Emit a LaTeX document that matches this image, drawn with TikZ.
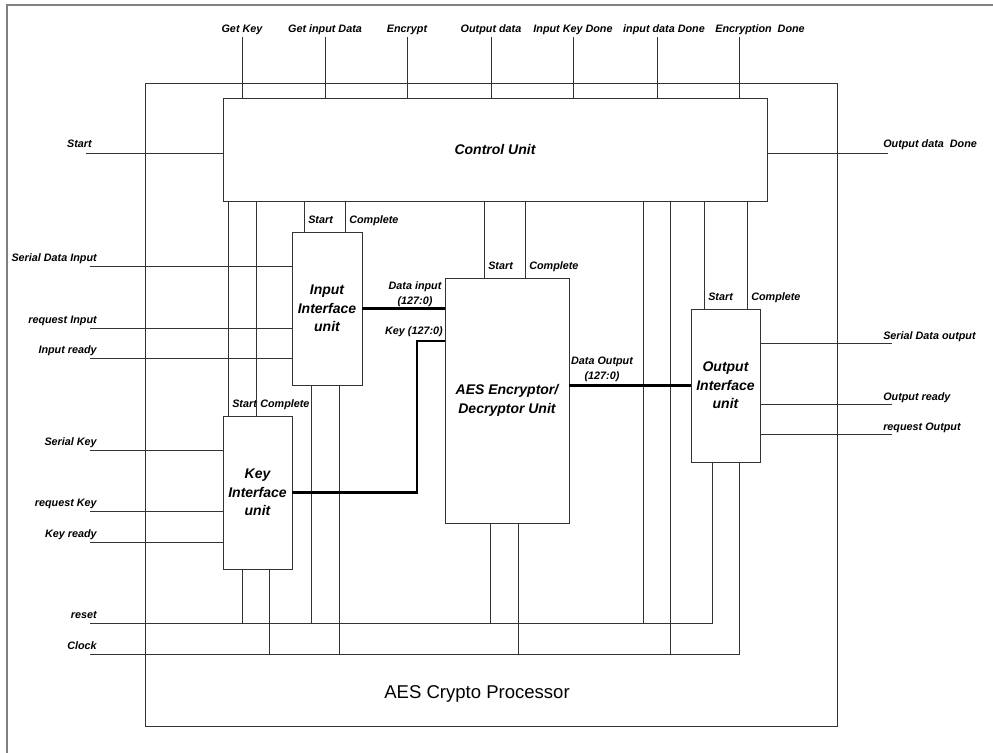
\documentclass[tikz,border=0pt]{standalone}
\usepackage{fontspec}
\setmainfont{Liberation Sans}
\usetikzlibrary{fit}

\tikzset{
  blk/.style={draw=black!80, line width=0.7pt, inner sep=0pt},
  boxtext/.style={font=\fontsize{10.5}{14}\selectfont\bfseries\itshape, align=center},
  sig/.style={font=\fontsize{8.1}{11}\selectfont\bfseries\itshape, inner sep=0pt, align=center},
  wire/.style={black!80, line width=0.6pt},
  bus/.style={black, line width=2pt},
}

\begin{document}
\begin{tikzpicture}[x=0.75pt, y=-0.75pt]
    \useasboundingbox (0,0) rectangle (993,753);

    % page frame
    \draw[black!50, line width=1.5pt] (7,753) -- (7,5) -- (993,5);

    % processor
    \node[blk, fit={(145,83) (837,726)}] (cp) {};
    \node[font=\fontsize{13.9}{16}\selectfont] (cpl) at (477,694) {AES Crypto Processor};

    % blocks
    \node[blk, fit={(223,98) (767,201)}, label={[boxtext]center:Control Unit}] (cu) {};
    \node[blk, fit={(292,232) (362,385)}, label={[boxtext]center:{Input\\Interface\\unit}}] (iu) {};
    \node[blk, fit={(223,416) (292,569)}, label={[boxtext]center:{Key\\Interface\\unit}}] (ku) {};
    \node[blk, fit={(445,278) (569,523)}, label={[boxtext]center:{AES Encryptor/\\Decryptor Unit}}] (au) {};
    \node[blk, fit={(691,309) (760,462)}, label={[boxtext]center:{Output\\Interface\\unit}}] (ou) {};

    % top signals
    \foreach \x/\lx/\t [count=\i] in {242/242/Get Key, 325/325/Get input Data, 407/407/Encrypt,
                                      491/491/Output data, 573/573/Input Key Done,
                                      657/664/input data Done, 739/760/Encryption~ Done} {
        \coordinate (top\i) at (\x,37);
        \draw[wire] (cu.north -| top\i) -- (top\i);
        \node[sig, anchor=base] (topl\i) at (\lx,32) {\t};
    }

    % start / done
    \coordinate (st) at (86,153);
    \draw[wire] (st) -- (st -| cu.west);
    \node[sig, anchor=base east] (stl) at (92,147.5) {Start};
    \coordinate (od) at (888,153);
    \draw[wire] (od -| cu.east) -- (od);
    \node[sig, anchor=base west] (odl) at (883,147.5) {Output data~ Done};

    % left inputs
    \foreach \y/\t/\b [count=\i] in {266/Serial Data Input/iu, 328/request Input/iu, 358/Input ready/iu,
                                     450/Serial Key/ku, 511/request Key/ku, 542/Key ready/ku} {
        \coordinate (in\i) at (90,\y);
        \draw[wire] (in\i) -- (in\i -| \b.west);
        \node[sig, anchor=base east] (inl\i) at (97,\y-5) {\t};
    }

    % right outputs
    \foreach \y/\t [count=\i] in {343/Serial Data output, 404/Output ready, 434/request Output} {
        \coordinate (out\i) at (892,\y);
        \draw[wire] (out\i -| ou.east) -- (out\i);
        \node[sig, anchor=base west] (outl\i) at (883,\y-4) {\t};
    }

    % start / complete handshakes
    \foreach \x/\b/\t [count=\i] in {228/ku/Start, 256/ku/Complete, 304/iu/Start, 345/iu/Complete,
                                     484/au/Start, 525/au/Complete, 704/ou/Start, 747/ou/Complete} {
        \draw[wire] (cu.south -| \x,0) -- (\b.north -| \x,0);
        \path (\b.north -| \x,0) ++(4,-8) node[sig, anchor=base west] (hs\i) {\t};
    }

    % reset and clock
    \coordinate (rs) at (90,623);
    \coordinate (ck) at (90,654);
    \coordinate (rse) at (712,623);
    \coordinate (cke) at (739,654);
    \node[sig, anchor=base east] (rsl) at (97,618) {reset};
    \node[sig, anchor=base east] (ckl) at (97,649) {Clock};
    \draw[wire] (rs) -- (rse) -- (ou.south -| rse);
    \draw[wire] (ck) -- (cke) -- (ou.south -| cke);
    \foreach \x/\b in {242/ku, 311/iu, 490/au}
        \draw[wire] (\b.south -| \x,0) -- (rs -| \x,0);
    \foreach \x/\b in {269/ku, 339/iu, 518/au}
        \draw[wire] (\b.south -| \x,0) -- (ck -| \x,0);
    \draw[wire] (cu.south -| 643,0) -- (rs -| 643,0);
    \draw[wire] (cu.south -| 670,0) -- (ck -| 670,0);

    % data buses
    \draw[bus] (iu.east) -- (iu.east -| au.west);
    \node[sig, anchor=south] (dil) at (415,307) {Data input\\(127:0)};
    \coordinate (kb) at (417,341);
    \draw[bus] (ku.east) -| (kb) -- (kb -| au.west);
    \node[sig, anchor=base] (kl) at (414,334) {Key (127:0)};
    \draw[bus] (au.east |- ou.west) -- (ou.west);
    \node[sig, anchor=south] (dol) at (602,382) {Data Output\\(127:0)};
\end{tikzpicture}
\end{document}
